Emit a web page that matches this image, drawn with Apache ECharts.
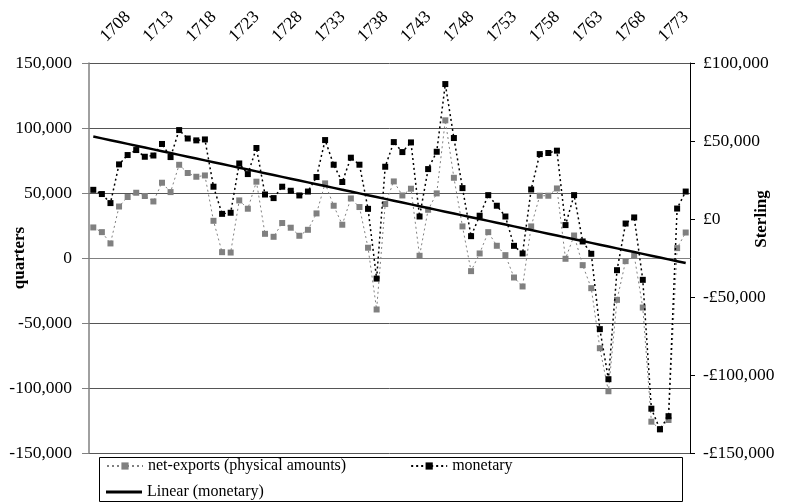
<!DOCTYPE html>
<html>
<head>
<meta charset="utf-8">
<script src="https://cdn.jsdelivr.net/npm/echarts@6/dist/echarts.min.js"></script>
<style>
html, body { margin: 0; padding: 0; background: #fff; }
#chart { width: 786px; height: 504px; }
</style>
</head>
<body>
<div id="chart"></div>
<script>
// years on the top axis
var years = [1708, 1709, 1710, 1711, 1712, 1713, 1714, 1715, 1716, 1717,
    1718, 1719, 1720, 1721, 1722, 1723, 1724, 1725, 1726, 1727,
    1728, 1729, 1730, 1731, 1732, 1733, 1734, 1735, 1736, 1737,
    1738, 1739, 1740, 1741, 1742, 1743, 1744, 1745, 1746, 1747,
    1748, 1749, 1750, 1751, 1752, 1753, 1754, 1755, 1756, 1757,
    1758, 1759, 1760, 1761, 1762, 1763, 1764, 1765, 1766, 1767,
    1768, 1769, 1770, 1771, 1772, 1773, 1774, 1775, 1776, 1777];

// net-exports, quarters (left axis)
var netExports = [23500, 19900, 11200, 39600, 46900, 50200, 47700, 43500, 57900, 50700,
    71700, 65400, 62500, 63500, 28600, 4500, 4200, 44300, 37900, 58700,
    18600, 16300, 26900, 23300, 17100, 21700, 34300, 57400, 40200, 25600,
    45800, 39200, 7900, -39600, 41500, 58900, 48100, 53300, 1700, 37100,
    49700, 105900, 61700, 24300, -10100, 3500, 19900, 9400, 2200, -15000,
    -21900, 24300, 47900, 47900, 53500, -600, 17300, -5500, -23200, -69400,
    -102500, -32200, -2400, 1900, -38100, -125900, -131700, -124600, 7600, 19600];

// monetary, sterling (right axis)
var monetary = [18700, 16000, 10200, 35000, 41000, 44200, 39900, 40700, 48100, 39700,
    57000, 51600, 50400, 51000, 20700, 3300, 4000, 35600, 28800, 45500,
    15700, 13400, 20700, 18100, 15100, 17600, 26900, 50600, 34800, 23700,
    39300, 34800, 6500, -38200, 33500, 49300, 42900, 49100, 1600, 32000,
    43100, 86500, 51900, 19800, -11000, 2100, 15300, 8500, 1600, -17200,
    -22100, 18900, 41600, 42300, 43800, -3900, 15300, -14400, -22300, -70600,
    -102700, -32800, -2900, 1000, -39000, -121600, -134800, -126400, 6700, 17600];

// axis ranges
var leftRange = [-150000, 150000];
var rightRange = [-150000, 100000];

var FONT = '"Liberation Serif", "Times New Roman", serif';

// linear trend of monetary (least squares)
function linearTrend(vals) {
    var n = vals.length, sx = 0, sy = 0, sxx = 0, sxy = 0;
    for (var i = 0; i < n; i++) {
        sx += i; sy += vals[i]; sxx += i * i; sxy += i * vals[i];
    }
    var b = (n * sxy - sx * sy) / (n * sxx - sx * sx);
    var a = (sy - b * sx) / n;
    var out = [];
    for (var j = 0; j < n; j++) out.push(a + b * j);
    return out;
}

function fmtNum(v) {
    return v.toLocaleString('en-US');
}
function fmtPound(v) {
    return (v < 0 ? '-£' : '£') + Math.abs(v).toLocaleString('en-US');
}

var chart = echarts.init(document.getElementById('chart'));
chart.setOption({
    animation: false,
    backgroundColor: '#fff',
    textStyle: { fontFamily: FONT },
    grid: { left: 89, right: 96, top: 63, bottom: 51 },
    legend: [
        {
            left: 106, top: 458, padding: 0,
            itemWidth: 36, itemHeight: 9, itemGap: 64,
            textStyle: { fontFamily: FONT, fontSize: 16, color: '#000' },
            data: ['net-exports (physical amounts)', 'monetary']
        },
        {
            left: 106, top: 484, padding: 0,
            itemWidth: 36, itemHeight: 3,
            textStyle: { fontFamily: FONT, fontSize: 16, color: '#000' },
            data: [{ name: 'Linear (monetary)', icon: 'rect' }]
        }
    ],
    xAxis: {
        type: 'category',
        position: 'top',
        data: years,
        boundaryGap: true,
        axisLine: { lineStyle: { color: '#808080', width: 1 } },
        axisTick: { interval: 4, length: 5, lineStyle: { color: '#333' } },
        axisLabel: {
            interval: 4, rotate: 45, margin: 14, padding: [0, 0, 0, 14],
            fontFamily: FONT, fontSize: 17.5, color: '#000'
        },
        splitLine: { show: false }
    },
    yAxis: [
        {
            type: 'value',
            min: leftRange[0], max: leftRange[1], interval: 50000,
            axisLine: { show: true, lineStyle: { color: '#808080', width: 1.5 } },
            axisTick: { show: true, length: 7, lineStyle: { color: '#808080' } },
            axisLabel: { formatter: fmtNum, margin: 17, fontFamily: FONT, fontSize: 17.5, color: '#000' },
            splitLine: { show: true, lineStyle: { color: '#555', width: 1 } }
        },
        {
            type: 'value',
            position: 'right',
            min: rightRange[0], max: rightRange[1], interval: 50000,
            axisLine: { show: true, lineStyle: { color: '#000', width: 1 } },
            axisTick: { show: true, length: 5, lineStyle: { color: '#000' } },
            axisLabel: { formatter: fmtPound, margin: 13, fontFamily: FONT, fontSize: 17.5, color: '#000' },
            splitLine: { show: false }
        }
    ],
    graphic: [
        {
            type: 'rect',
            shape: { x: 99.5, y: 457.5, width: 583, height: 44 },
            style: { fill: 'none', stroke: '#000', lineWidth: 1 },
            z: 1
        },
        {
            type: 'text', x: 20, y: 258, rotation: Math.PI / 2,
            style: {
                text: 'quarters', font: 'bold 17px ' + FONT, fill: '#000',
                textAlign: 'center', textVerticalAlign: 'middle'
            }
        },
        {
            type: 'text', x: 762, y: 219, rotation: Math.PI / 2,
            style: {
                text: 'Sterling', font: 'bold 17px ' + FONT, fill: '#000',
                textAlign: 'center', textVerticalAlign: 'middle'
            }
        }
    ],
    series: [
        {
            name: 'net-exports (physical amounts)',
            type: 'line',
            yAxisIndex: 0,
            data: netExports,
            symbol: 'rect', symbolSize: 6, showSymbol: true, showAllSymbol: true,
            itemStyle: { color: '#808080' },
            lineStyle: { color: '#808080', width: 1, type: [2, 3] },
            z: 2
        },
        {
            name: 'monetary',
            type: 'line',
            yAxisIndex: 1,
            data: monetary,
            symbol: 'rect', symbolSize: 6, showSymbol: true, showAllSymbol: true,
            itemStyle: { color: '#000' },
            lineStyle: { color: '#000', width: 1.5, type: [2, 3] },
            z: 3
        },
        {
            name: 'Linear (monetary)',
            type: 'line',
            yAxisIndex: 1,
            data: linearTrend(monetary),
            symbol: 'none',
            itemStyle: { color: '#000' },
            lineStyle: { color: '#000', width: 2.5, type: 'solid' },
            z: 4
        }
    ]
});
</script>
</body>
</html>
